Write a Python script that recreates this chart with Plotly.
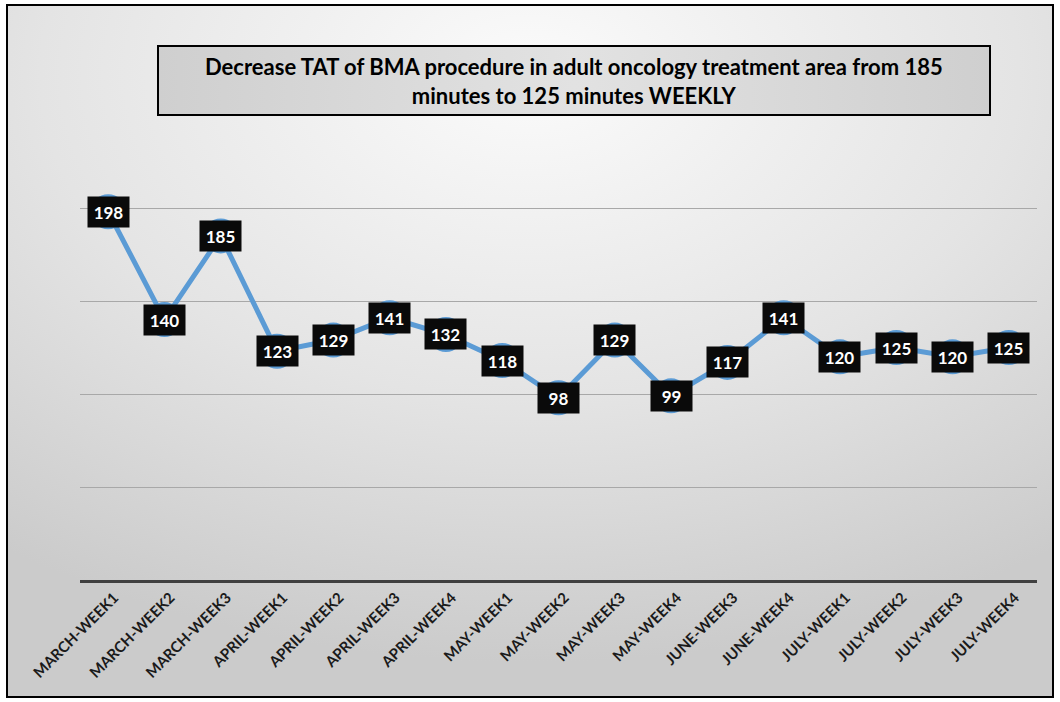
import base64
import plotly.graph_objects as go

categories = ["MARCH-WEEK1", "MARCH-WEEK2", "MARCH-WEEK3", "APRIL-WEEK1", "APRIL-WEEK2",
              "APRIL-WEEK3", "APRIL-WEEK4", "MAY-WEEK1", "MAY-WEEK2", "MAY-WEEK3",
              "MAY-WEEK4", "JUNE-WEEK3", "JUNE-WEEK4", "JULY-WEEK1", "JULY-WEEK2",
              "JULY-WEEK3", "JULY-WEEK4"]
tat_minutes = [198, 140, 185, 123, 129, 141, 132, 118, 98, 129, 99, 117, 141, 120, 125, 120, 125]
title_text = "Decrease TAT of BMA procedure in adult oncology treatment area from 185<br>minutes to 125 minutes WEEKLY"

svg = """<svg xmlns='http://www.w3.org/2000/svg' width='1046' height='692' preserveAspectRatio='none'>
<defs><radialGradient id='g' cx='50%' cy='10%' r='85%' fx='50%' fy='10%'>
<stop offset='0%' stop-color='#fbfbfb'/><stop offset='55%' stop-color='#e4e4e4'/>
<stop offset='100%' stop-color='#cbcbcb'/></radialGradient></defs>
<rect width='1046' height='692' fill='url(#g)'/></svg>"""
bg_src = "data:image/svg+xml;base64," + base64.b64encode(svg.encode()).decode()

svg2 = """<svg xmlns='http://www.w3.org/2000/svg' width='832' height='69' preserveAspectRatio='none'>
<defs><linearGradient id='h' x1='0' y1='0' x2='1' y2='0'>
<stop offset='0%' stop-color='#cfcfcf'/><stop offset='50%' stop-color='#e2e2e2'/>
<stop offset='100%' stop-color='#cfcfcf'/></linearGradient></defs>
<rect width='832' height='69' fill='url(#h)'/></svg>"""
box_src = "data:image/svg+xml;base64," + base64.b64encode(svg2.encode()).decode()

W, H = 1060, 702
L, R, T, B = 80, 23, 115, 122
pw, ph = W - L - R, H - T - B


def px(x):
    return (x - L) / pw


def py(y):
    return (H - B - y) / ph


fig = go.Figure()
fig.add_trace(go.Scatter(
    x=categories, y=tat_minutes, mode="lines+markers",
    line=dict(color="#5B9BD5", width=5),
    marker=dict(size=35, color="#5B9BD5"),
    hoverinfo="skip", showlegend=False, cliponaxis=False,
))

for c, v in zip(categories, tat_minutes):
    fig.add_annotation(
        x=c, y=v, text="<b>%d</b>" % v, showarrow=False,
        font=dict(family="Lato", size=17, color="white"),
        bgcolor="#0a0a0a", borderpad=4, width=33, height=22,
    )

fig.add_annotation(
    x=px(574), y=py(81), xref="paper", yref="paper",
    text="<b>" + title_text + "</b>", showarrow=False,
    font=dict(family="Lato", size=22, color="black"),
    align="center", yanchor="middle", xanchor="center",
)

fig.update_layout(
    width=W, height=H,
    margin=dict(l=L, r=R, t=T, b=B),
    paper_bgcolor="white", plot_bgcolor="rgba(0,0,0,0)",
    images=[
        dict(source=bg_src, xref="paper", yref="paper", x=px(7), y=py(5),
             sizex=(1053 - 7) / pw, sizey=(697 - 5) / ph, sizing="stretch",
             xanchor="left", yanchor="top", layer="below"),
        dict(source=box_src, xref="paper", yref="paper", x=px(158), y=py(46),
             sizex=(990 - 158) / pw, sizey=(115 - 46) / ph, sizing="stretch",
             xanchor="left", yanchor="top", layer="below"),
    ],
    shapes=[
        dict(type="rect", xref="paper", yref="paper", x0=px(7), x1=px(1053),
             y0=py(697), y1=py(5), line=dict(color="black", width=2), fillcolor="rgba(0,0,0,0)"),
        dict(type="rect", xref="paper", yref="paper", x0=px(158), x1=px(990),
             y0=py(115), y1=py(46), line=dict(color="black", width=2), fillcolor="rgba(0,0,0,0)"),
    ],
    xaxis=dict(
        tickangle=-45, showgrid=False, showline=True, linecolor="#404040", linewidth=3,
        ticks="", tickfont=dict(family="Lato", size=15, color="#1a1a1a"),
        range=[-0.5, len(categories) - 0.5], zeroline=False,
        tickprefix="<b>", ticksuffix="</b>", ticklabelshift=6,
    ),
    yaxis=dict(
        range=[0, 250], dtick=50, showgrid=True, gridcolor="#a8a8a8", gridwidth=1,
        showticklabels=False, zeroline=False, showline=False,
    ),
)

fig.write_html("out.html", config={"displayModeBar": False},
               post_script="document.body.style.margin='0px';document.body.style.overflow='hidden';")
